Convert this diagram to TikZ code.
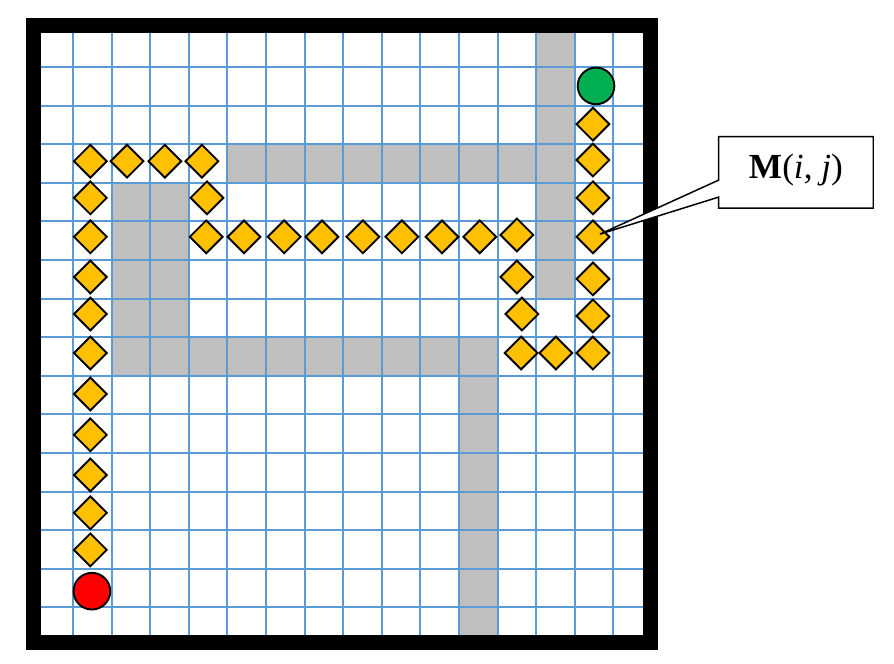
\documentclass[tikz,border=0pt]{standalone}
\usepackage{fontspec}
\setmainfont{Liberation Serif}
\usetikzlibrary{shapes.geometric,calc}
\definecolor{gridblue}{RGB}{91,155,213}
\definecolor{wallgray}{RGB}{191,191,191}
\definecolor{pathgold}{RGB}{255,192,0}
\definecolor{goalgreen}{RGB}{0,176,80}
\begin{document}
\begin{tikzpicture}[
	cellpt/.style={diamond, draw=black, line width=1.4pt, fill=pathgold, inner sep=0pt, minimum size=0.87cm},
	endpt/.style={circle, draw=black, line width=1.4pt, inner sep=0pt, minimum size=0.95cm}]
	\useasboundingbox (-0.891,-0.466) rectangle (22.27,16.736);
	% walls
	\fill[wallgray] (13,9) rectangle (14,16);
	\fill[wallgray] (5,12) rectangle (13,13);
	\fill[wallgray] (2,7) rectangle (4,12);
	\fill[wallgray] (4,7) rectangle (12,8);
	\fill[wallgray] (11,0) rectangle (12,7);
	\draw[gridblue, line width=1.6pt] (0,0) grid (16,16);
	\draw[line width=0.39cm] (-0.02,0.09) rectangle (15.97,16.07);
	% start and goal
	\node[endpt, fill=red] (start) at (1.49,1.42) {};
	\node[endpt, fill=goalgreen] (goal) at (14.55,14.51) {};
	% path cells
	\foreach \x/\y [count=\k] in {1.45/2.49, 1.45/3.45, 1.45/4.43, 1.45/5.47, 1.45/6.53,
		1.45/7.59, 1.45/8.6, 1.45/9.56, 1.45/10.6, 1.45/11.61, 1.45/12.56,
		2.4/12.56, 3.38/12.56, 4.34/12.56, 4.47/11.61, 4.45/10.6,
		5.43/10.6, 6.47/10.6, 7.45/10.6, 8.51/10.6, 9.52/10.6, 10.56/10.6,
		11.54/10.6, 12.5/10.65, 12.5/9.56, 12.63/8.6, 12.61/7.59,
		13.51/7.59, 14.47/7.59, 14.47/8.55, 14.47/9.51,
		14.47/11.61, 14.47/12.59, 14.47/13.52}
		\node[cellpt] (p\k) at (\x,\y) {};
	\node[cellpt] (mij) at (14.47,10.6) {};
	% label
	\node[minimum width=3.99cm, minimum height=1.84cm, inner sep=0pt] (lbl) at (19.73,12.27) {};
	\filldraw[fill=white, line width=1.1pt] (lbl.north west) -- ($(lbl.west)+(0,-0.2)$)
		-- ($(mij)+(0.18,0.07)$) -- ($(lbl.west)+(0,-0.64)$) -- (lbl.south west)
		-- (lbl.south east) -- (lbl.north east) -- cycle;
	\node[font=\fontsize{26}{30}\selectfont] (lbltext) at ($(lbl.center)+(0,0.06)$) {\textbf{M}(\textit{i}, \textit{j})};
\end{tikzpicture}
\end{document}
